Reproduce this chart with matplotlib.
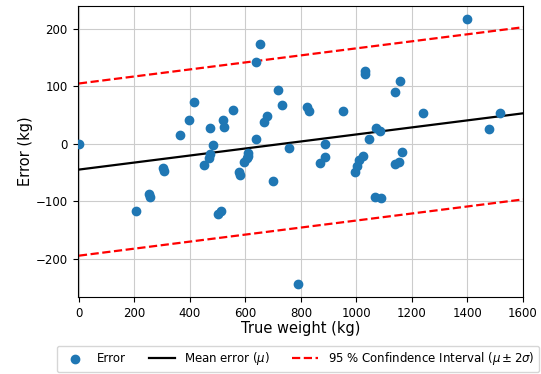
import numpy as np
import matplotlib
matplotlib.use('Agg')
import matplotlib.pyplot as plt

# weights and errors
true_weight = [0, 207, 252, 255, 304, 306, 366, 396, 414, 449, 467, 471, 472, 483,
               502, 512, 520, 522, 555, 577, 580, 595, 607, 609, 611, 637, 637, 651,
               667, 678, 701, 719, 732, 757, 788, 823, 828, 867, 885, 888, 952, 994,
               1002, 1010, 1022, 1030, 1030, 1046, 1067, 1072, 1084, 1088, 1138, 1139,
               1153, 1157, 1165, 1238, 1400, 1479, 1517]
error = [0, -118, -87, -92, -43, -48, 15, 42, 73, -37, -24, -17, 27, -3,
         -123, -117, 42, 30, 58, -50, -54, -32, -25, -16, -21, 8, 143, 174,
         38, 49, -65, 94, 67, -7, -244, 64, 57, -33, 0, -23, 57, -50,
         -39, -29, -22, 126, 122, 9, -92, 28, 22, -95, 90, -35,
         -32, 109, -15, 54, 217, 26, 54]

# mean error line and spread
line_x = [0, 1600]
mean_at_ends = [-45, 53]
sigma = 75

fig = plt.figure(figsize=(5.41, 3.74), dpi=100)
ax = fig.add_axes([77.5/541, 1 - 297/374, (523 - 77.5)/541, (297 - 6)/374])

ax.scatter(true_weight, error, color='#1f77b4', s=36, zorder=3, label='Error')
mu = np.array(mean_at_ends)
ax.plot(line_x, mu, color='black', linewidth=1.6, label=r'Mean error ($\mu$)')
ax.plot(line_x, mu + 2*sigma, 'r--', linewidth=1.6,
        label=r'95 % Confindence Interval ($\mu \pm 2\sigma$)')
ax.plot(line_x, mu - 2*sigma, 'r--', linewidth=1.6)

ax.set_xlim(-5, 1600)
ax.set_ylim(-267, 240)
ax.set_xticks(range(0, 1601, 200))
ax.set_yticks([-200, -100, 0, 100, 200])
ax.tick_params(labelsize=8.5)
ax.grid(color='#cccccc')
ax.set_axisbelow(True)
ax.set_xlabel('True weight (kg)', fontsize=10.5, labelpad=1)
ax.set_ylabel('Error (kg)', fontsize=10.5, labelpad=2)

fig.legend(loc='lower left', bbox_to_anchor=(57/541, 2/374), ncol=3,
           fontsize=8.5, frameon=True, handlelength=2.2, columnspacing=1.9,
           borderaxespad=0)

plt.savefig('out.png', dpi=100)
